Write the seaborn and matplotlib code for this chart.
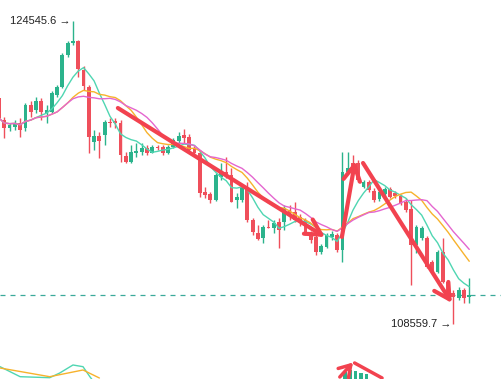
import numpy as np
import pandas as pd
import seaborn as sns
import matplotlib.pyplot as plt

# OHLC data (one entry per candle)
opens = [120472, 119313, 118891, 118960, 119155, 118891, 120104, 119840, 120330, 119698,
         119735, 120630, 121068, 122738, 123355, 123492, 121948, 121068, 118154, 118470,
         118523, 119223, 119260, 119171, 117416, 117115, 117558, 117642, 117853, 117590,
         117906, 117890, 117590, 117906, 118222, 118523, 118417, 117837, 117558, 115519,
         115413, 115097, 116325, 116588, 116414, 115097, 115097, 115729, 114043, 113358,
         113094, 113690, 113621, 113953, 113953, 114570, 114480, 114201, 114043, 113358,
         113147, 112357, 112636, 113147, 113252, 112462, 116588, 117047, 117047, 115798,
         116061, 115587, 115150, 115413, 115661, 115466, 115308, 115007, 114623, 112725,
         113094, 113094, 111830, 111318, 112372, 110791, 110180, 109932, 110354, 109959]
closes = [119418, 118891, 119050, 119171, 118786, 120104, 119735, 120330, 119750, 119840,
          120736, 121068, 122738, 123371, 123492, 122001, 121105, 118433, 118470, 118206,
          119223, 119139, 119139, 117469, 117115, 117642, 117695, 117853, 117590, 117906,
          117822, 117590, 117906, 118259, 118470, 118349, 117732, 117558, 115450, 115360,
          115097, 116414, 116504, 116414, 115007, 115271, 115798, 114043, 113426, 113042,
          113690, 113637, 113885, 113516, 114675, 114307, 114043, 113938, 113358, 112989,
          112357, 112673, 113252, 113305, 112462, 116588, 116783, 116889, 116151, 116061,
          115624, 115097, 115519, 115661, 115271, 115308, 114923, 114570, 112725, 113690,
          113621, 111582, 111355, 112372, 110791, 110180, 110001, 110354, 109917, 110080]
highs = [120578, 119471, 119155, 119313, 119418, 120209, 120314, 120525, 120472, 120104,
         120841, 121157, 122844, 123476, 124545.6, 123530, 122159, 121157, 118786, 118681,
         119313, 119418, 119418, 119313, 117627, 117996, 118101, 118101, 117996, 117996,
         117996, 117996, 117996, 118364, 118696, 118839, 118575, 117943, 117732, 115782,
         115519, 116520, 117047, 117363, 116783, 115466, 115887, 116046, 114148, 113780,
         113780, 114043, 114043, 114148, 114834, 114834, 115007, 114359, 114148, 113463,
         113252, 112778, 113358, 113463, 113358, 117642, 117642, 117469, 117205, 116151,
         116151, 115729, 115729, 115782, 115782, 115571, 115413, 115202, 115097, 113780,
         113727, 113200, 111935, 112462, 113094, 110881, 110354, 110512, 110459, 110986]
lows = [119208, 118364, 118733, 118786, 118417, 118733, 119471, 119682, 119313, 119155,
        119682, 120525, 120999, 122633, 123266, 121579, 120894, 117574, 117732, 117310,
        117996, 118944, 118891, 117100, 117047, 117047, 117363, 117469, 117469, 117574,
        117732, 117469, 117521, 117837, 118101, 118101, 117679, 117469, 115255, 115202,
        114939, 115050, 116151, 116256, 114980, 114675, 114992, 113938, 113252, 112989,
        112831, 113621, 113358, 112567, 113516, 114043, 113938, 113727, 113252, 112831,
        112198, 112251, 112567, 112989, 112357, 111845, 116520, 116783, 116046, 115729,
        115519, 114992, 115044, 115308, 115202, 115202, 114834, 114465, 110617, 112304,
        112989, 111513, 111250, 111250, 110723, 110090, 108559.7, 109827, 109669, 109669]

ma_windows = [7, 14, 17]

# trend arrows drawn on the chart: (start candle, start price, end candle, end price)
trend_arrows = [(22.5, 119945, 61.7, 113147),
                (64.9, 113147, 67.4, 117152),
                (68.9, 117047, 85.7, 109669)]

# lower strip (cut-off indicator panel)
sub_x = [0.2, 4.0, 9.6, 11.5, 14.0, 15.9, 17.2, 18.4]
sub_fast = [12.3, 2.3, 1.3, 6.0, 14.0, 12.3, 2.3, -6.0]
sub_x2 = [0.2, 9.6, 15.9, 19.0]
sub_slow = [11.0, 2.3, 9.0, 1.0]
sub_bar_x = [65.5, 66.5, 67.5, 68.5, 69.5]
sub_bar_h = [7.0, 9.0, 8.0, 6.0, 5.0]

GREEN = "#2bb38c"
RED = "#ef4f5b"
ARROW_RED = "#f2424f"

sns.set_style("white")
plt.rcParams['font.family'] = ['Liberation Sans', 'DejaVu Sans']

df = pd.DataFrame({"open": opens, "high": highs, "low": lows, "close": closes})
df["idx"] = np.arange(len(df))
for w in ma_windows:
    df[f"ma{w}"] = df["close"].rolling(w, min_periods=1).mean()

fig = plt.figure(figsize=(5.02, 3.79), dpi=100)
ax = fig.add_axes([0, 0, 1, 1])

up = df["close"] >= df["open"]
colors = np.where(up, GREEN, RED)
body = (df["close"] - df["open"]).to_numpy(dtype=float)
body = np.where(np.abs(body) < 45, np.where(body < 0, -45, 45), body)

ax.vlines(df["idx"], df["low"], df["high"], colors=colors, lw=1.0, zorder=2)
ax.bar(df["idx"], body, bottom=df["open"], width=0.72, color=colors, lw=0, zorder=3)

for w, c in zip(ma_windows, ["#4fd6b2", "#f7b22c", "#e466cf"]):
    sns.lineplot(data=df, x="idx", y=f"ma{w}", ax=ax, color=c, lw=1.0, zorder=4)

# current price line
ax.axhline(closes[-1], color="#3aa99a", lw=0.9, ls=(0, (4, 4)), zorder=1)

for x0, y0, x1, y1 in trend_arrows:
    ax.annotate("", xy=(x1, y1), xytext=(x0, y0),
                arrowprops=dict(arrowstyle="->,head_length=0.55,head_width=0.3",
                                color=ARROW_RED, lw=3, shrinkA=0, shrinkB=0,
                                mutation_scale=20), zorder=5)

hi_i = int(np.argmax(highs))
lo_i = int(np.argmin(lows))
ax.text(hi_i - 0.4, highs[hi_i], f"{highs[hi_i]:.1f} →", ha="right", va="center",
        fontsize=8, color="#222222")
ax.text(lo_i - 0.4, lows[lo_i], f"{lows[lo_i]:.1f} →", ha="right", va="center",
        fontsize=8, color="#222222")

ax.set_xlim(0.19, 95.2)
ax.set_ylim(105664, 125637)
ax.axis("off")

# lower strip
ax2 = fig.add_axes([0, 0, 1, 0.103])
ax2.patch.set_alpha(0)
sns.lineplot(x=sub_x, y=sub_fast, ax=ax2, color="#4fd6b2", lw=1.0)
sns.lineplot(x=sub_x2, y=sub_slow, ax=ax2, color="#f7b22c", lw=1.0)
ax2.bar(sub_bar_x, sub_bar_h, width=0.6, color=GREEN, lw=0)
ax2.annotate("", xy=(67.0, 16.5), xytext=(64.5, 2.0),
             arrowprops=dict(arrowstyle="->,head_length=0.4,head_width=0.25",
                             color=ARROW_RED, lw=2.5, shrinkA=0, shrinkB=0,
                             mutation_scale=20))
ax2.plot([67.3, 72.5], [16.0, 1.0], color=ARROW_RED, lw=2.5)
ax2.set_xlim(0.19, 95.2)
ax2.set_ylim(0, 39)
ax2.axis("off")

fig.savefig("out.png", dpi=100)
